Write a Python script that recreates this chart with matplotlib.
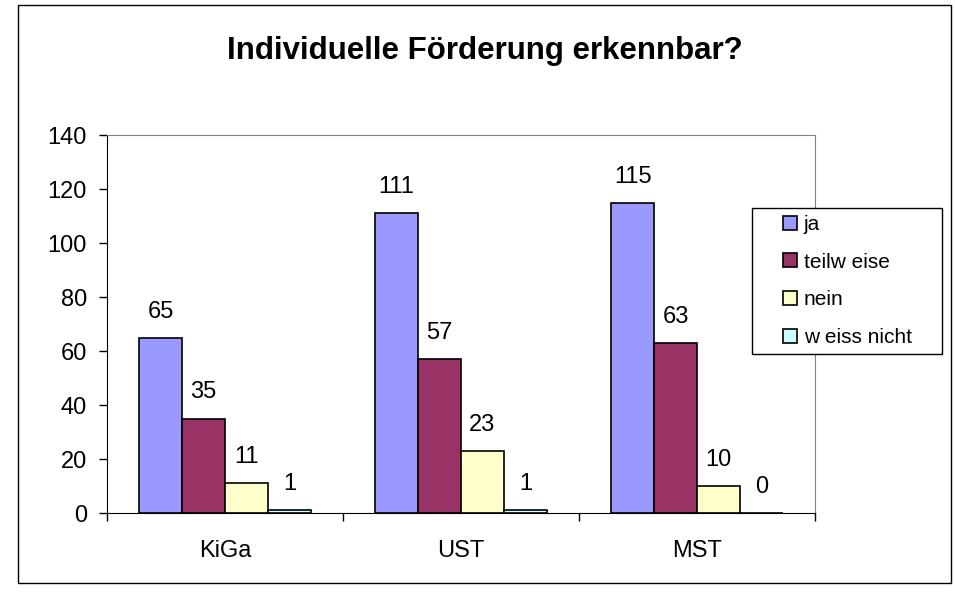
import numpy as np
import matplotlib
matplotlib.use("Agg")
import matplotlib.pyplot as plt
from matplotlib.patches import Rectangle

plt.rcParams["font.family"] = ["Liberation Sans", "DejaVu Sans"]

# data
categories = ["KiGa", "UST", "MST"]
series_names = ["ja", "teilw eise", "nein", "w eiss nicht"]
ja = [65, 111, 115]
teilweise = [35, 57, 63]
nein = [11, 23, 10]
weiss_nicht = [1, 1, 0]
series = [ja, teilweise, nein, weiss_nicht]
colors = ["#9999FF", "#993366", "#FFFFCC", "#CCFFFF"]

W, H = 955, 592
fig = plt.figure(figsize=(9.55, 5.92), dpi=100)
# outer chart border
fig.patches.append(Rectangle((18/W, 1-583/H), 933/W, 578/H, transform=fig.transFigure,
                             fill=False, edgecolor="black", linewidth=1.0))

ax = fig.add_axes([107/W, 1-513/H, 708/W, 378/H])
x = np.arange(len(categories))
w = 0.182
for i, (vals, c, name) in enumerate(zip(series, colors, series_names)):
    pos = x + (i - 1.5) * w
    ax.bar(pos, vals, w, color=c, edgecolor="black", linewidth=1.2, label=name)
    for p, v in zip(pos, vals):
        ax.annotate(str(v), (p, v), xytext=(0, 14.4), textcoords="offset points",
                    ha="center", va="baseline", fontsize=17)

ax.set_xlim(-0.5, 2.5)
ax.set_ylim(0, 140)
ax.set_yticks(np.arange(0, 141, 20))
ax.set_yticklabels([str(v) for v in range(0, 141, 20)], fontsize=17)
ax.set_xticks(x)
ax.set_xticklabels(categories, fontsize=17)
ax.set_xticks([-0.5, 0.5, 1.5, 2.5], minor=True)
ax.tick_params(axis="x", which="major", length=0, pad=19.5)
ax.tick_params(axis="x", which="minor", length=6, direction="out", width=1)
ax.tick_params(axis="y", length=6, direction="out", width=1, pad=8.5)
for s in ["top", "right"]:
    ax.spines[s].set_color("#808080")
for s in ["left", "bottom"]:
    ax.spines[s].set_color("black")

fig.text(485/W, 1-59/H, "Individuelle Förderung erkennbar?", ha="center", va="baseline",
         fontsize=22.5, fontweight="bold")

# legend box
fig.patches.append(Rectangle((752/W, 1-354/H), 190/W, 146/H, transform=fig.transFigure,
                             facecolor="white", edgecolor="black", linewidth=1.0, zorder=3))
leg = fig.legend(loc="center left", bbox_to_anchor=(783/W, 1-281/H), fontsize=15,
                 frameon=False, handlelength=0.65, handleheight=0.65, handletextpad=0.35,
                 labelspacing=0.9, borderpad=0, borderaxespad=0)
leg.set_zorder(4)

fig.savefig("out.png", dpi=100)
